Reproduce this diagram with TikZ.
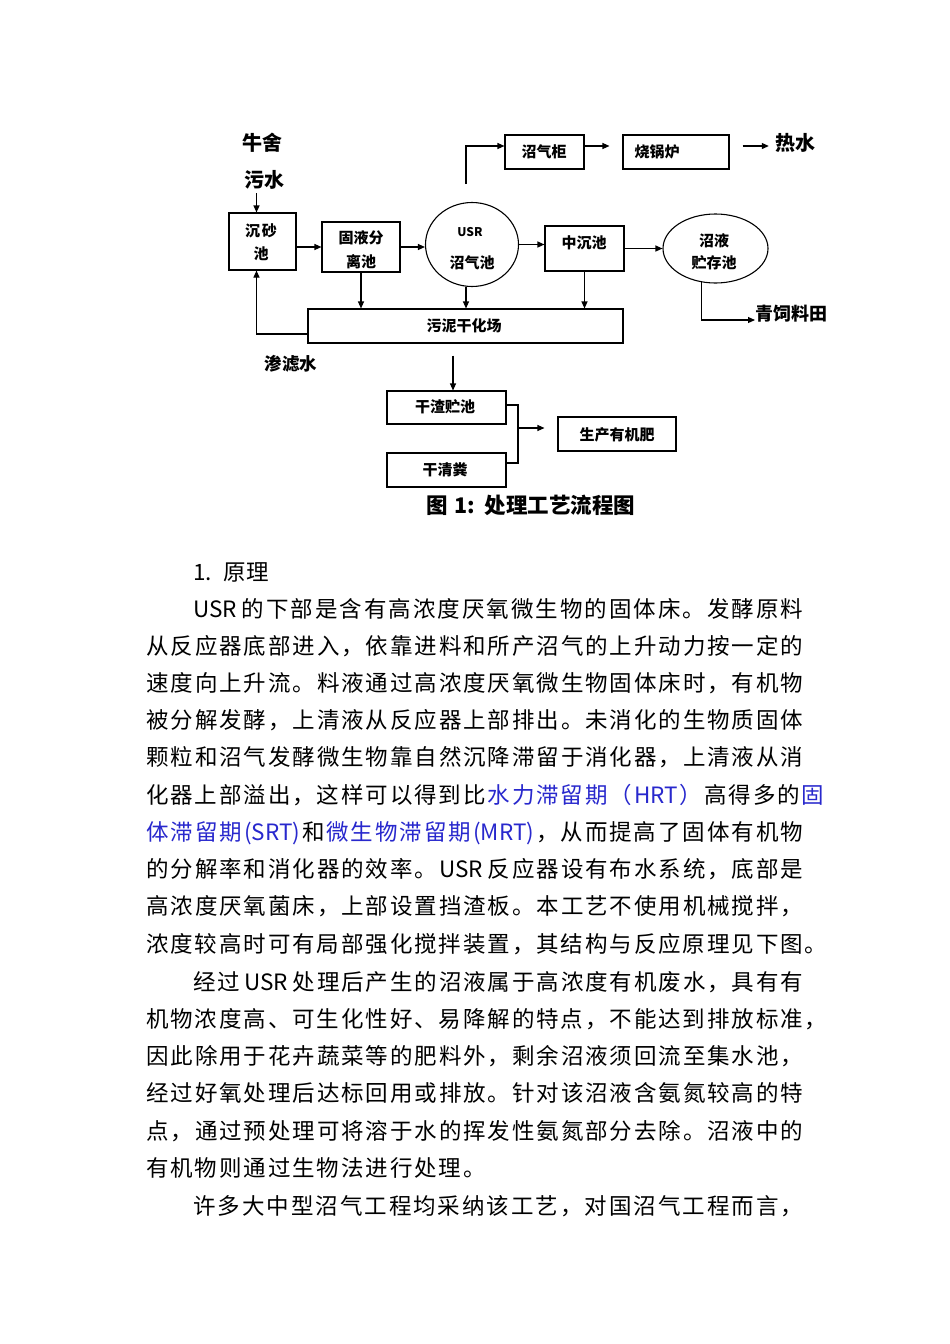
\documentclass[tikz,border=0pt]{standalone}
\usepackage{fontspec}
\newfontfamily\cjk{Noto Sans CJK SC}
\usetikzlibrary{arrows.meta,shapes.geometric,calc}
\definecolor{lb}{RGB}{40,40,205}
\newcommand\cjkglue{\hskip 1.9pt plus 1fil\relax}
\chardef\cjkcls=20
\newcount\cjkcc
\cjkcc="4E00
\loop \XeTeXcharclass\cjkcc=\cjkcls \advance\cjkcc by 1 \ifnum\cjkcc<"A000 \repeat
\cjkcc="3000
\loop \XeTeXcharclass\cjkcc=\cjkcls \advance\cjkcc by 1 \ifnum\cjkcc<"3040 \repeat
\cjkcc="FF00
\loop \XeTeXcharclass\cjkcc=\cjkcls \advance\cjkcc by 1 \ifnum\cjkcc<"FFF0 \repeat
\XeTeXinterchartoks \cjkcls \cjkcls = {\cjkglue}
\XeTeXinterchartoks 0 \cjkcls = {\cjkglue}
\XeTeXinterchartoks \cjkcls 0 = {\cjkglue}
\newcommand\bodyfont{\cjk\fontsize{22.5}{27}\selectfont\XeTeXinterchartokenstate=1\relax}
\newcommand\dfont{\cjk\bfseries\fontsize{15}{17}\selectfont}
\newcommand\jl[5]{\node[anchor=base west,inner sep=0pt] (#1) at (#2,#3) {\bodyfont\makebox[#4pt][s]{#5}};}
\newcommand\nl[4]{\node[anchor=base west,inner sep=0pt] (#1) at (#2,#3) {\bodyfont #4};}
\tikzset{
  arr/.style={-{Triangle[length=7pt,width=6pt]}, line width=1.1pt},
  ln/.style={line width=1.1pt},
  box/.style={draw, line width=1.1pt, inner sep=0pt},
  ell/.style={draw, ellipse, line width=1.1pt, inner sep=0pt},
  lbl/.style={inner sep=0pt, font=\dfont},
}
\begin{document}
\begin{tikzpicture}[x=1pt,y=-1pt]
\path[use as bounding box, fill=white] (0,0) rectangle (950,1344);

% ---------- diagram ----------
\node[inner sep=0pt, font=\cjk\bfseries\fontsize{20}{20}\selectfont] (niushe) at (262,143) {牛舍};
\node[inner sep=0pt, font=\cjk\bfseries\fontsize{20}{20}\selectfont] (wushui) at (264,180) {污水};

\node[box, minimum width=67pt, minimum height=57pt] (shasha) at (262.5,241.5) {};
\node[lbl] (shashaA) at (261,231) {沉\hspace{2pt}砂};
\node[lbl] (shashaB) at (261,254) {池};

\node[box, minimum width=78pt, minimum height=50pt] (guye) at (361,247) {};
\node[lbl] (guyeA) at (361,238) {固液分};
\node[lbl] (guyeB) at (361,262) {离池};

\node[ell, minimum width=93pt, minimum height=84pt] (usr) at (472,244.5) {};
\node[lbl, font=\cjk\bfseries\fontsize{12}{12}\selectfont] (usrA) at (470,232) {USR};
\node[lbl] (usrB) at (472,263) {沼气池};

\node[box, minimum width=79pt, minimum height=34pt] (zqg) at (544.5,152) {};
\node[lbl] (zqgT) at (544,152) {沼气柜};

\node[box, minimum width=106pt, minimum height=34pt] (sgl) at (676,152) {};
\node[lbl] (sglT) at (657,152) {烧锅炉};

\node[inner sep=0pt, font=\cjk\bfseries\fontsize{20}{20}\selectfont] (reshui) at (795,143) {热水};

\node[box, minimum width=79pt, minimum height=45pt] (zcc) at (584.5,248.5) {};
\node[lbl] (zccT) at (584,243) {中沉池};

\node[ell, minimum width=105pt, minimum height=69pt] (zy) at (715.5,248.5) {};
\node[lbl] (zyA) at (714,241) {沼液};
\node[lbl] (zyB) at (714,263) {贮存池};

\node[anchor=west, inner sep=0pt, font=\cjk\bfseries\fontsize{18}{18}\selectfont] (qsl) at (755,314) {青饲料田};

\node[box, minimum width=315pt, minimum height=34pt] (wn) at (465.5,326) {};
\node[lbl] (wnT) at (464,326) {污泥干化场};

\node[inner sep=0pt, font=\cjk\bfseries\fontsize{17.5}{17.5}\selectfont] (slv) at (291,364) {渗滤水};

\node[box, minimum width=119pt, minimum height=33pt] (gz) at (446.5,407.5) {};
\node[lbl] (gzT) at (445,407) {干渣贮池};

\node[box, minimum width=119pt, minimum height=34pt] (gqf) at (446.5,470) {};
\node[lbl] (gqfT) at (445,470) {干清粪};

\node[box, minimum width=118pt, minimum height=34pt] (scy) at (617,434) {};
\node[lbl] (scyT) at (617,435) {生产有机肥};

\node[inner sep=0pt, font=\cjk\bfseries\fontsize{21.5}{21.5}\selectfont] (cap) at (531,505) {图\hspace{6pt}1:\hspace{10pt}处理工艺流程图};

% connectors
\coordinate (inA) at (256.5,193);
\draw[arr] (inA) -- (inA |- shasha.north);
\draw[arr] (shasha.east |- guye.west) -- (guye.west);
\draw[arr] (guye.east) -- (guye.east -| usr.west);
\draw[arr] (usr.east) -- (usr.east -| zcc.west);
\draw[arr] (zcc.east) -- (zy.west);
\coordinate (gasA) at (466,184);
\draw[arr] (gasA) |- ($(zqg.west)+(0,-6)$);
\draw[arr] ($(zqg.east)+(0,-6)$) -- ($(sgl.west)+(-13,-6)$);
\draw[arr] ($(sgl.east)+(13,-6)$) -- ($(reshui.west)+(-6,3)$);
\draw[arr] (zy.248) |- ($(qsl.west)+(0,6)$);
\draw[arr] (guye.south) -- (guye.south |- wn.north);
\coordinate (usrOut) at ($(usr.south)+(-6,0)$);
\draw[arr] (usrOut) -- (usrOut |- wn.north);
\draw[arr] (zcc.south) -- (zcc.south |- wn.north);
\coordinate (retA) at ($(wn.west)+(0,8)$);
\draw[arr] (retA) -| ($(shasha.south)+(-6,0)$);
\coordinate (wnOut) at ($(wn.south)+(-12.5,12)$);
\draw[arr] (wnOut) -- (wnOut |- gz.north);
\coordinate (jn) at (518,428);
\draw[ln] ($(gz.east)+(0,-2.5)$) -| (jn) |- ($(gqf.east)+(0,-7)$);
\draw[arr] (jn) -- ($(scy.west)+(-13,-6)$);

% ---------- body text ----------
\node[anchor=base west, inner sep=0pt, font=\cjk\fontsize{22.5}{27}\selectfont] (head) at (193,580) {1.\hspace{12pt}原理};
\jl{l1}{193}{617}{610}{USR 的下部是含有高浓度厌氧微生物的固体床。发酵原料}
\jl{l2}{146}{654}{657}{从反应器底部进入，依靠进料和所产沼气的上升动力按一定的}
\jl{l3}{146}{691}{657}{速度向上升流。料液通过高浓度厌氧微生物固体床时，有机物}
\jl{l4}{146}{728}{657}{被分解发酵，上清液从反应器上部排出。未消化的生物质固体}
\jl{l5}{146}{765}{657}{颗粒和沼气发酵微生物靠自然沉降滞留于消化器，上清液从消}
\jl{l6}{146}{803}{657}{化器上部溢出，这样可以得到比\cjkglue\textcolor{lb}{水力滞留期（HRT）}\cjkglue 高得多的\cjkglue\textcolor{lb}{固}}
\jl{l7}{146}{840}{657}{\textcolor{lb}{体滞留期(SRT)}\cjkglue 和\cjkglue\textcolor{lb}{微生物滞留期(MRT)}\cjkglue ，从而提高了固体有机物}
\jl{l8}{146}{877}{657}{的分解率和消化器的效率。USR 反应器设有布水系统，底部是}
\jl{l9}{146}{914}{657}{高浓度厌氧菌床，上部设置挡渣板。本工艺不使用机械搅拌，}
\jl{l10}{146}{952}{657}{浓度较高时可有局部强化搅拌装置，其结构与反应原理见下图。}
\jl{l11}{193}{990}{610}{经过 USR 处理后产生的沼液属于高浓度有机废水，具有有}
\nl{l12}{146}{1027}{机物浓度高、可生化性好、易降解的特点，不能达到排放标准，}
\jl{l13}{146}{1064}{657}{因此除用于花卉蔬菜等的肥料外，剩余沼液须回流至集水池，}
\jl{l14}{146}{1101}{657}{经过好氧处理后达标回用或排放。针对该沼液含氨氮较高的特}
\jl{l15}{146}{1139}{657}{点，通过预处理可将溶于水的挥发性氨氮部分去除。沼液中的}
\nl{l16}{146}{1176}{有机物则通过生物法进行处理。}
\jl{l17}{193}{1214}{610}{许多大中型沼气工程均采纳该工艺，对国沼气工程而言，}
\end{tikzpicture}
\end{document}
